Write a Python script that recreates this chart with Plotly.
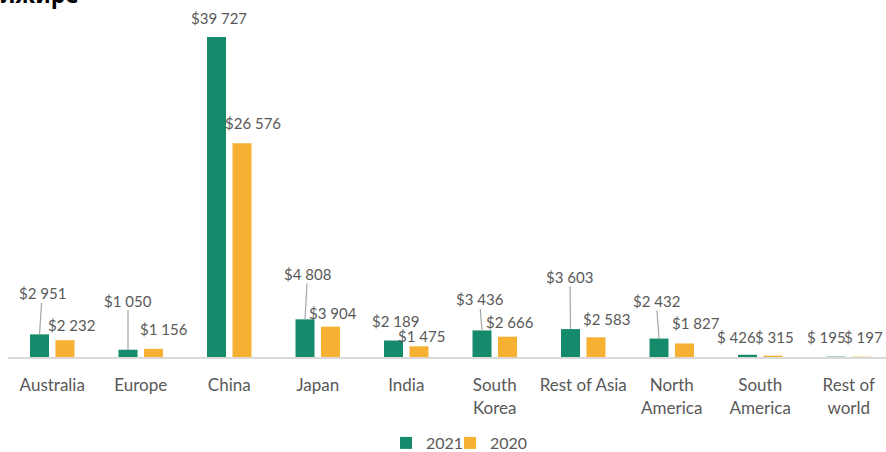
import plotly.graph_objects as go

categories = ["Australia", "Europe", "China", "Japan", "India", "South<br>Korea",
              "Rest of Asia", "North<br>America", "South<br>America", "Rest of<br>world"]
values_2021 = [2951, 1050, 39727, 4808, 2189, 3436, 3603, 2432, 426, 195]
values_2020 = [2232, 1156, 26576, 3904, 1475, 2666, 2583, 1827, 315, 197]
labels_2021 = ["$2 951", "$1 050", "$39 727", "$4 808", "$2 189", "$3 436",
               "$3 603", "$2 432", "$ 426", "$ 195"]
labels_2020 = ["$2 232", "$1 156", "$26 576", "$3 904", "$1 475", "$2 666",
               "$2 583", "$1 827", "$ 315", "$ 197"]
series_names = ["2021", "2020"]

GREEN = "#168B6C"
YELLOW = "#F7B132"
GREY_TEXT = "#595959"
AXIS_GREY = "#D9D9D9"
FONT = "Lato"

# label placement (pixel offsets of label centre from bar top) and leader-line flags
off_2021 = [(2.7, -41), (0, -49), (2.3, -18.7), (2.5, -45.3), (2, -19.8),
            (-2.5, -31), (-0.5, -52.4), (-2.8, -37.6), (-10.8, -18.1), (-9.7, -19.9)]
off_2020 = [(6, -15), (10.3, -19.6), (10.5, -20), (2.3, -13.3), (2, -10.3),
            (2.2, -15), (10.2, -18.3), (11.8, -20.1), (2, -19), (2, -19.9)]
leader_2021 = [True, True, False, True, False, True, True, True, False, False]
leader_2020 = [False] * 10

BAR_OFFSET = 12.75
YMIN, YMAX = 150, 43064
XMAX = 9.421

fig = go.Figure()
fig.add_trace(go.Bar(x=categories, y=values_2021, name=series_names[0],
                     marker=dict(color=GREEN, line=dict(width=0)), legend="legend"))
fig.add_trace(go.Bar(x=categories, y=values_2020, name=series_names[1],
                     marker=dict(color=YELLOW, line=dict(width=0)), legend="legend2"))

annotations = []
for vals, labs, offs, leads, shift in [
    (values_2021, labels_2021, off_2021, leader_2021, -BAR_OFFSET),
    (values_2020, labels_2020, off_2020, leader_2020, BAR_OFFSET),
]:
    for cat, v, lab, (ax, ay), lead in zip(categories, vals, labs, offs, leads):
        annotations.append(dict(
            x=cat, y=v, xref="x", yref="y", text=lab, xshift=shift,
            showarrow=True, ax=ax, ay=ay, arrowhead=0, standoff=0,
            arrowwidth=1.2,
            arrowcolor="#A6A6A6" if lead else "rgba(0,0,0,0)",
            font=dict(family=FONT, size=15, color=GREY_TEXT),
            borderpad=0,
        ))

annotations.append(dict(
    x=0, y=1, xref="paper", yref="paper", text="<b>лжире</b>",
    xanchor="left", yanchor="top", xshift=-9, yshift=34, showarrow=False,
    font=dict(family="Noto Sans", size=23, color="#000000"),
))

legend_style = dict(orientation="h", xanchor="left", yref="container",
                    y=1 - 443 / 452, yanchor="middle",
                    font=dict(family=FONT, size=16, color=GREY_TEXT),
                    itemwidth=30, bgcolor="rgba(0,0,0,0)")

fig.update_layout(
    width=886, height=452,
    margin=dict(l=8, r=0, t=10, b=95, autoexpand=False),
    paper_bgcolor="white", plot_bgcolor="white",
    barmode="group", bargap=0.424, bargroupgap=0.255,
    font=dict(family=FONT, color=GREY_TEXT, size=16),
    xaxis=dict(type="category", range=[-0.5, XMAX], showline=True,
               linecolor=AXIS_GREY, linewidth=2, ticks="", showgrid=False,
               tickfont=dict(family=FONT, size=17, color=GREY_TEXT),
               ticklabelstandoff=12, automargin=False),
    xaxis2=dict(overlaying="x", anchor="y", type="linear", range=[-0.5, XMAX],
                tick0=-0.5, dtick=0.5, ticks="inside", ticklen=6,
                tickcolor=AXIS_GREY, tickwidth=1.5, showticklabels=False,
                showgrid=False, zeroline=False, showline=False, side="bottom"),
    yaxis=dict(range=[YMIN, YMAX], visible=False, showgrid=False),
    legend=dict(legend_style, x=0.4305),
    legend2=dict(legend_style, x=0.5034),
    annotations=annotations,
    showlegend=True,
)

fig.write_html("out.html")
